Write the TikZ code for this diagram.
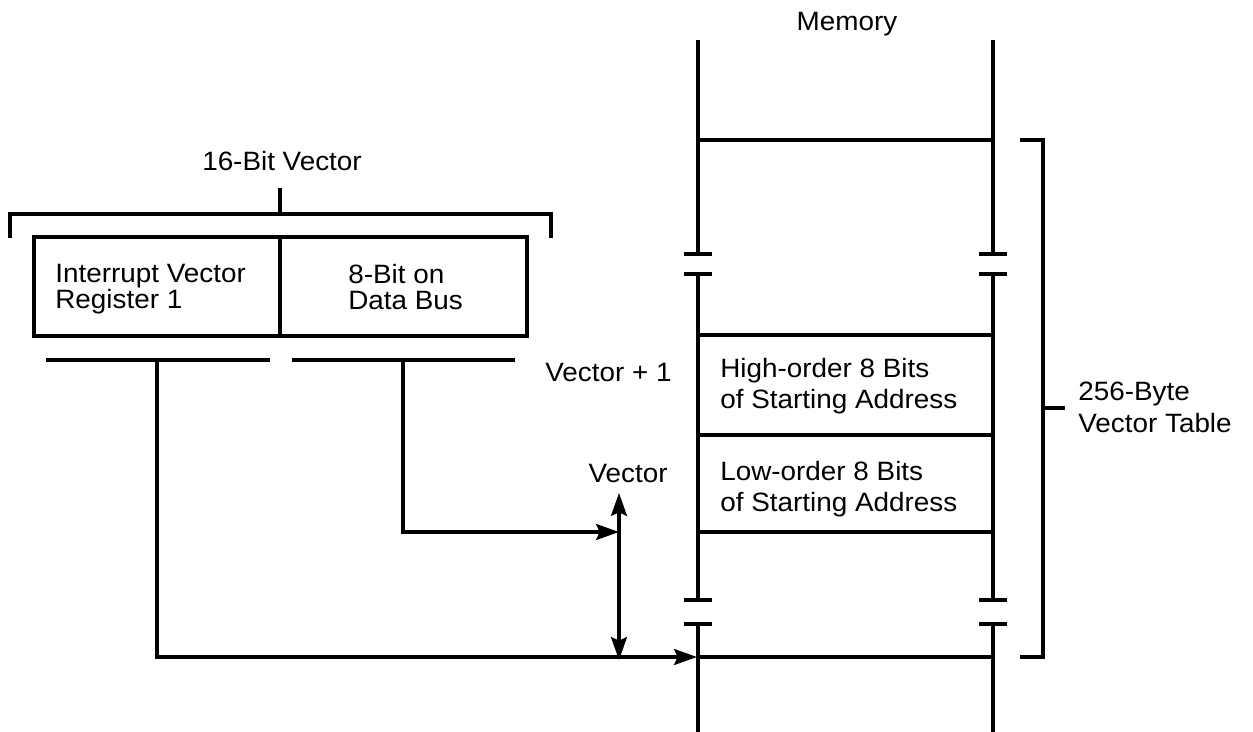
\documentclass[tikz,border=0pt]{standalone}
\usepackage{fontspec}
\setmainfont{Liberation Sans}[FakeStretch=1.05]
\usetikzlibrary{arrows.meta, positioning}

\begin{document}
\begin{tikzpicture}[x=0.02cm, y=-0.02cm,
    every node/.style={font=\fontsize{15.1}{17.9}\selectfont, inner sep=0pt},
    wire/.style={draw, line width=2pt},
    regbox/.style={draw, line width=2.3pt},
    arrowline/.style={draw, line width=2pt, -{Stealth[length=13pt, width=9pt, inset=2pt]}},
    twoway/.style={draw, line width=2pt, {Stealth[length=13pt, width=9pt, inset=2pt]}-{Stealth[length=13pt, width=9pt, inset=2pt]}},
    celltext/.style={align=left, anchor=west}]

    \useasboundingbox (0,0) rectangle (1253,732);

    % memory column with its two breaks
    \node [anchor=base] (memtitle) at (847,31) {Memory};
    \foreach \mx in {698,993} {
        \draw [wire] (\mx,40) -- (\mx,254);
        \draw [wire] (\mx,274) -- (\mx,600);
        \draw [wire] (\mx,624) -- (\mx,732);
        \foreach \by in {254,274,600,624}
            \draw [wire] (\mx-14,\by) -- (\mx+14,\by);
    }
    \foreach \ry in {140,335,435,532,657}
        \draw [wire] (698,\ry) -- (993,\ry);

    \node [celltext] (hibyte) at (720,386) {High-order 8 Bits\\of Starting Address};
    \node [celltext] (lobyte) at (720,489) {Low-order 8 Bits\\of Starting Address};

    % vector table bracket
    \coordinate (tabtop) at (1020,140);
    \coordinate (tabbot) at (1020,657);
    \draw [wire] (tabtop) -- (1043,140) -- (1043,657) -- (tabbot);
    \draw [wire] (1043,408) -- (1065,408);
    \node [celltext, font=\fontsize{15.1}{18.1}\selectfont] (tablabel) at (1078,407) {256-Byte\\Vector Table};

    % 16-bit vector register
    \node [anchor=base] (vectitle) at (282,171) {16-Bit Vector};
    \draw [wire] (10,238) -- (10,214) -- (551,214) -- (551,238);
    \draw [wire] (280,214) -- (280,188);
    \draw [regbox] (34,237) rectangle (527,336);
    \draw [regbox] (280,237) -- (280,336);
    \node [celltext, font=\fontsize{15.1}{14.9}\selectfont] (ivr) at (55,289) {Interrupt Vector\\Register 1};
    \node [celltext, font=\fontsize{15.1}{14.9}\selectfont] (databus) at (348,287) {8-Bit on\\Data Bus};

    \draw [wire] (46,360) -- (270,360);
    \draw [wire] (292,360) -- (515,360);
    \coordinate (hitap) at (157,360);
    \coordinate (lotap) at (403,360);

    % address arrows
    \coordinate (vecbase) at (697,657);
    \coordinate (vecmark) at (619,532);
    \coordinate (spantop) at (619,493);
    \coordinate (spanbot) at (619,660);
    \path [arrowline] (hitap) |- (vecbase);
    \path [arrowline] (lotap) |- (vecmark);
    \path [twoway] (spantop) -- (spanbot);

    \node [anchor=base east] (vecplus) at (672,382) {Vector + 1};
    \node [anchor=base east] (vecname) at (668,482) {Vector};
\end{tikzpicture}
\end{document}
